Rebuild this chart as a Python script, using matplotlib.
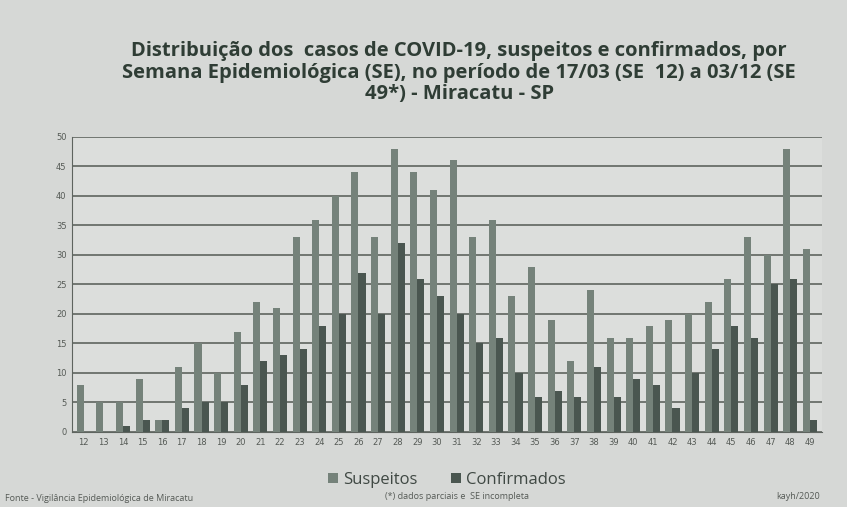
import matplotlib.pyplot as plt
import numpy as np

# semanas epidemiologicas (SE 12 a SE 49)
semanas = [str(s) for s in range(12, 50)]

suspeitos = [8, 5, 5, 9, 2, 11, 15, 10, 17, 22, 21, 33, 36, 40, 44, 33, 48, 44, 41,
             46, 33, 36, 23, 28, 19, 12, 24, 16, 16, 18, 19, 20, 22, 26, 33, 30, 48, 31]
confirmados = [0, 0, 1, 2, 2, 4, 5, 5, 8, 12, 13, 14, 18, 20, 27, 20, 32, 26, 23,
               20, 15, 16, 10, 6, 7, 6, 11, 6, 9, 8, 4, 10, 14, 18, 16, 25, 26, 2]

bg = "#d6d8d6"
cor_susp = "#75827a"
cor_conf = "#4a5650"
cor_texto = "#2f3d35"

fig = plt.figure(figsize=(8.47, 5.07), dpi=100, facecolor=bg)
ax = fig.add_axes([0.085, 0.148, 0.885, 0.582])
ax.set_facecolor("#dcdedc")

x = np.arange(len(semanas))
w = 0.36
ax.bar(x - w / 2, suspeitos, width=w, color=cor_susp, label="Suspeitos", zorder=3)
ax.bar(x + w / 2, confirmados, width=w, color=cor_conf, label="Confirmados", zorder=3)

ax.set_ylim(0, 50)
ax.set_xlim(-0.6, len(semanas) - 0.4)
ax.set_yticks(range(0, 51, 5))
ax.set_xticks(x)
ax.set_xticklabels(semanas)
ax.tick_params(axis="both", labelsize=6, colors="#555a56", length=0, pad=4)
ax.grid(axis="y", color="#5e645f", linewidth=1.2, zorder=0)
for lado in ["top", "right"]:
    ax.spines[lado].set_visible(False)
ax.spines["left"].set_color("#5e645f")
ax.spines["bottom"].set_color("#5e645f")

fig.text(0.542, 0.857, "Distribuição dos  casos de COVID-19, suspeitos e confirmados, por\n"
         "Semana Epidemiológica (SE), no período de 17/03 (SE  12) a 03/12 (SE\n"
         "49*) - Miracatu - SP", ha="center", va="center", fontsize=14.5,
         fontweight="bold", family="Open Sans", color=cor_texto, linespacing=1.12)

ax.legend(loc="upper center", bbox_to_anchor=(0.5, -0.085), ncol=2, frameon=False,
          handlelength=0.6, handleheight=0.6, columnspacing=2.0,
          handletextpad=0.3, labelcolor="#3f4843", prop={"family": "Open Sans", "size": 12})

fig.text(0.006, 0.012, "Fonte - Vigilância Epidemiológica de Miracatu", fontsize=6.5,
         color="#555a56", family="Open Sans")
fig.text(0.455, 0.016, "(*) dados parciais e  SE incompleta", fontsize=6.5,
         color="#555a56", family="Open Sans")
fig.text(0.968, 0.016, "kayh/2020", fontsize=6.5, color="#555a56", family="Open Sans",
         ha="right")

fig.savefig("out.png", dpi=100, facecolor=bg)
